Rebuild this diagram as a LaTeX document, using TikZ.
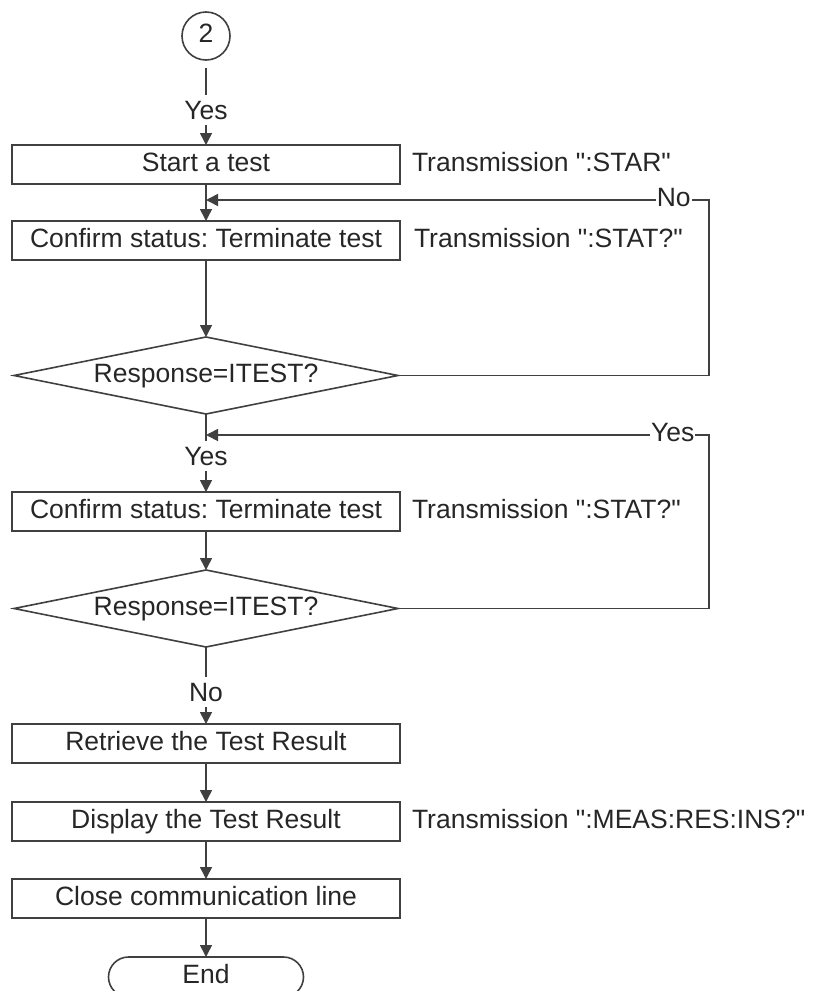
\documentclass[tikz,border=0pt]{standalone}
\usepackage{fontspec}
\setmainfont{Liberation Sans}[Ligatures=TeXOff]
\usetikzlibrary{arrows.meta,positioning,shapes.geometric}

\begin{document}
\frenchspacing
\begin{tikzpicture}[
  x=1pt, y=1pt,
  color=black!75,
  node distance=38pt,
  every node/.style={font=\fontsize{26.5}{30}\selectfont,text=black!85,
    text height=19pt,text depth=5.5pt,outer sep=0pt},
  every path/.style={line width=1.6pt,-{Triangle[length=12pt,width=12pt]}},
  stepbox/.style={draw,minimum width=388pt,minimum height=39pt,inner sep=0pt},
  test/.style={draw,diamond,aspect=5,minimum width=384pt,minimum height=77pt,
    inner sep=0pt},
  branch/.style={inner sep=3pt,text height=21.5pt,text depth=2.5pt},
  looplbl/.style={fill=white,inner sep=1pt},
  note/.style={inner sep=0pt}
]
\useasboundingbox (0,0) rectangle (819,-991);
\node[draw,circle,minimum size=48pt,inner sep=0pt] (circ) at (206,-36) {2};
\node[branch,below=35pt of circ] (yes1) {Yes};
\node[stepbox,below=20pt of yes1] (start) {Start a test};
\node[stepbox,below=37pt of start] (conf1) {Confirm status: Terminate test};
\node[test,below=77pt of conf1] (dec1) {Response=ITEST?};
\node[branch,below=27pt of dec1] (yes2) {Yes};
\node[stepbox,below=21pt of yes2] (conf2) {Confirm status: Terminate test};
\node[test,below=39pt of conf2] (dec2) {Response=ITEST?};
\node[branch,below=30pt of dec2] (no1) {No};
\node[stepbox,below=17pt of no1] (retr) {Retrieve the Test Result};
\node[stepbox,below=39pt of retr] (disp) {Display the Test Result};
\node[stepbox,below=38pt of disp] (closeln) {Close communication line};
\node[draw,rounded corners=20pt,minimum width=195pt,minimum height=40pt,
  inner sep=0pt,below=39pt of closeln] (endn) {End};
% commands sent to the instrument
\node[note,right=12pt of start] (txstar) {Transmission ":STAR"};
\node[note,right=14pt of conf1] (txstat1) {Transmission ":STAT?"};
\node[note,right=12pt of conf2] (txstat2) {Transmission ":STAT?"};
\node[note,right=12pt of disp] (txmeas) {Transmission ":MEAS:RES:INS?"};
% loop back points
\coordinate[below=16pt of start] (j1);
\coordinate[below=21pt of dec1] (j2);
\coordinate (rail) at (709,0);
\draw[-,shorten <=8pt] (circ) -- (yes1);
\draw (yes1) -- (start);
\draw (start) -- (conf1);
\draw (conf1) -- (dec1);
\draw[-] (dec1) -- (yes2);
\draw (yes2) -- (conf2);
\draw (conf2) -- (dec2);
\draw[-] (dec2) -- (no1);
\draw (no1) -- (retr);
\draw (retr) -- (disp);
\draw (disp) -- (closeln);
\draw (closeln) -- (endn);
\draw (dec1.east) -- (dec1.east -| rail) -- (j1 -| rail)
  -- node[looplbl,pos=0.07] (lblno) {No} (j1);
\draw (dec2.east) -- (dec2.east -| rail) -- (j2 -| rail)
  -- node[looplbl,pos=0.072] (lblyes) {Yes} (j2);
\end{tikzpicture}
\end{document}
